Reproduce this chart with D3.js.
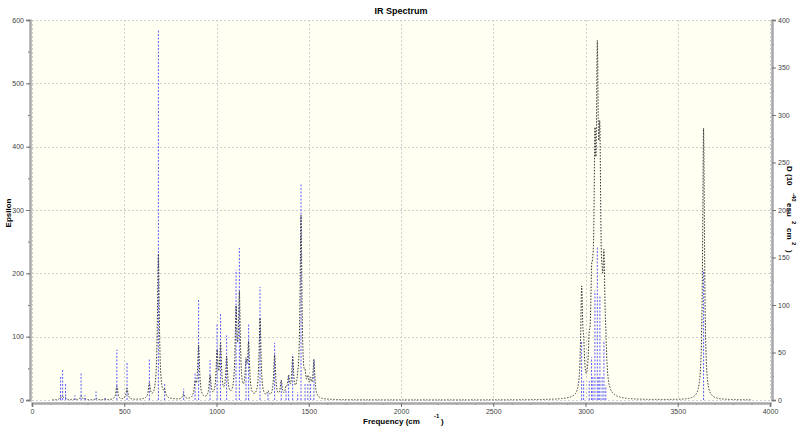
<!DOCTYPE html>
<html><head><meta charset="utf-8">
<script src="https://cdn.jsdelivr.net/npm/d3@7"></script>
<style>body{margin:0;background:#fff}svg{display:block}text{font-family:"Liberation Sans",Arial,sans-serif}</style>
</head><body><svg id="c" width="800" height="427"></svg>
<script>
// Normal-mode frequencies (cm-1) and dipole strengths D (10^-40 esu^2 cm^2)
const modeFreq = [155,166,182,233,266,287,347,396,460,515,636,685,719,822,884,903,965,1003,1022,1055,1106,1124,1160,1174,1236,1279,1315,1351,1377,1391,1413,1440,1458,1480,1495,1510,1528,
  2979,2990,3020,3033,3040,3051,3064,3072,3078,3090,3100,3110,3640];
const modeD = [25,32,18,5,28,5,9,3,53,40,43,390,17,12,29,107,42,80,91,68,137,160,45,80,119,8,60,22,10,25,48,8,228,18,18,17,44,
  62,20,20,45,25,115,162,25,110,25,63,15,137];
const xTicks = [0,500,1000,1500,2000,2500,3000,3500,4000];
const epsTicks = [0,100,200,300,400,500,600];
const dTicks = [0,50,100,150,200,250,300,350,400];
const hwhm = 6;          // Lorentzian half-width (cm-1)
const epsPerD = 8.6e-4;  // epsilon peak per (cm-1 * D)

const svg = d3.select("#c");
const L=32,R=770,T=20,B=400;
const x = d3.scaleLinear().domain([0,4000]).range([L,R]);
const yE = d3.scaleLinear().domain([0,600]).range([B,T]);
const yD = d3.scaleLinear().domain([0,400]).range([B,T]);

svg.append("rect").attr("x",L).attr("y",T).attr("width",R-L).attr("height",B-T).attr("fill","#fffff2");
const grid = svg.append("g").attr("stroke","#cfcfcf").attr("stroke-dasharray","2,2").attr("stroke-width",1);
xTicks.forEach(t=>grid.append("line").attr("x1",Math.round(x(t))+0.5).attr("x2",Math.round(x(t))+0.5).attr("y1",T).attr("y2",B));
epsTicks.forEach(t=>grid.append("line").attr("x1",L).attr("x2",R).attr("y1",Math.round(yE(t))+0.5).attr("y2",Math.round(yE(t))+0.5));

// sticks
svg.append("g").selectAll("line").data(modeFreq.map((f,i)=>[f,modeD[i]])).join("line")
  .attr("x1",d=>x(d[0])).attr("x2",d=>x(d[0])).attr("y1",yD(0)).attr("y2",d=>yD(d[1]))
  .attr("stroke","#5c5cff").attr("stroke-width",1).attr("stroke-dasharray","2,1.5");

// broadened spectrum
const pts=[];
for(let v=110; v<=3900; v+=1){
  let s=0;
  modeFreq.forEach((f,i)=>{const u=(v-f)/hwhm; s+=epsPerD*f*modeD[i]/(1+u*u);});
  pts.push([v,s]);
}
svg.append("path").datum(pts).attr("d",d3.line().x(d=>x(d[0])).y(d=>yE(d[1])))
  .attr("fill","none").attr("stroke","#333").attr("stroke-width",1).attr("stroke-dasharray","1.5,1.5");

// axes
const axCol="#a8a8a8";
const gB = svg.append("g").attr("transform",`translate(0,${B+3})`)
  .call(d3.axisBottom(x).tickValues(d3.range(0,4001,100)).tickSize(2).tickFormat(""));
const gB2 = svg.append("g").attr("transform",`translate(0,${B+3})`)
  .call(d3.axisBottom(x).tickValues(xTicks).tickSize(4).tickPadding(2).tickFormat(d3.format("d")));
const gL = svg.append("g").attr("transform",`translate(${L-2},0)`)
  .call(d3.axisLeft(yE).tickValues(d3.range(0,601,50)).tickSize(2).tickFormat(""));
const gL2 = svg.append("g").attr("transform",`translate(${L-2},0)`)
  .call(d3.axisLeft(yE).tickValues(epsTicks).tickSize(4).tickPadding(2));
const gR = svg.append("g").attr("transform",`translate(${R+2},0)`)
  .call(d3.axisRight(yD).tickValues(d3.range(0,401,25)).tickSize(2).tickFormat(""));
const gR2 = svg.append("g").attr("transform",`translate(${R+2},0)`)
  .call(d3.axisRight(yD).tickValues(dTicks).tickSize(4).tickPadding(2));
[gB,gB2,gL,gL2,gR,gR2].forEach(g=>{
  g.select(".domain").attr("stroke",axCol).attr("stroke-width",2);
  g.selectAll(".tick line").attr("stroke","#777");
  g.selectAll(".tick text").attr("font-size",7).attr("fill","#444").attr("font-family","Liberation Sans, Arial, sans-serif");
});

// titles
svg.append("text").attr("x",401).attr("y",14).attr("text-anchor","middle").attr("font-size",9).attr("font-weight","bold").text("IR Spectrum");
const xl = svg.append("text").attr("x",363).attr("y",424).attr("font-size",8).attr("font-weight","bold");
xl.append("tspan").text("Frequency (cm");
xl.append("tspan").attr("x",434).attr("y",418).attr("font-size",6).text("-1");
xl.append("tspan").attr("x",441).attr("y",424).text(")");
svg.append("text").attr("transform","translate(11,213) rotate(-90)").attr("text-anchor","middle").attr("font-size",8).attr("font-weight","bold").text("Epsilon");
const yr = svg.append("text").attr("transform","translate(787,0) rotate(90)").attr("font-size",8).attr("font-weight","bold");
yr.append("tspan").attr("x",166).attr("y",0).text("D (10");
yr.append("tspan").attr("x",193).attr("y",-5).attr("font-size",6).text("-40");
yr.append("tspan").attr("x",203).attr("y",0).text("esu");
yr.append("tspan").attr("x",221).attr("y",-5).attr("font-size",6).text("2");
yr.append("tspan").attr("x",228).attr("y",0).text("cm");
yr.append("tspan").attr("x",242).attr("y",-5).attr("font-size",6).text("2");
yr.append("tspan").attr("x",250).attr("y",0).text(")");
</script></body></html>
